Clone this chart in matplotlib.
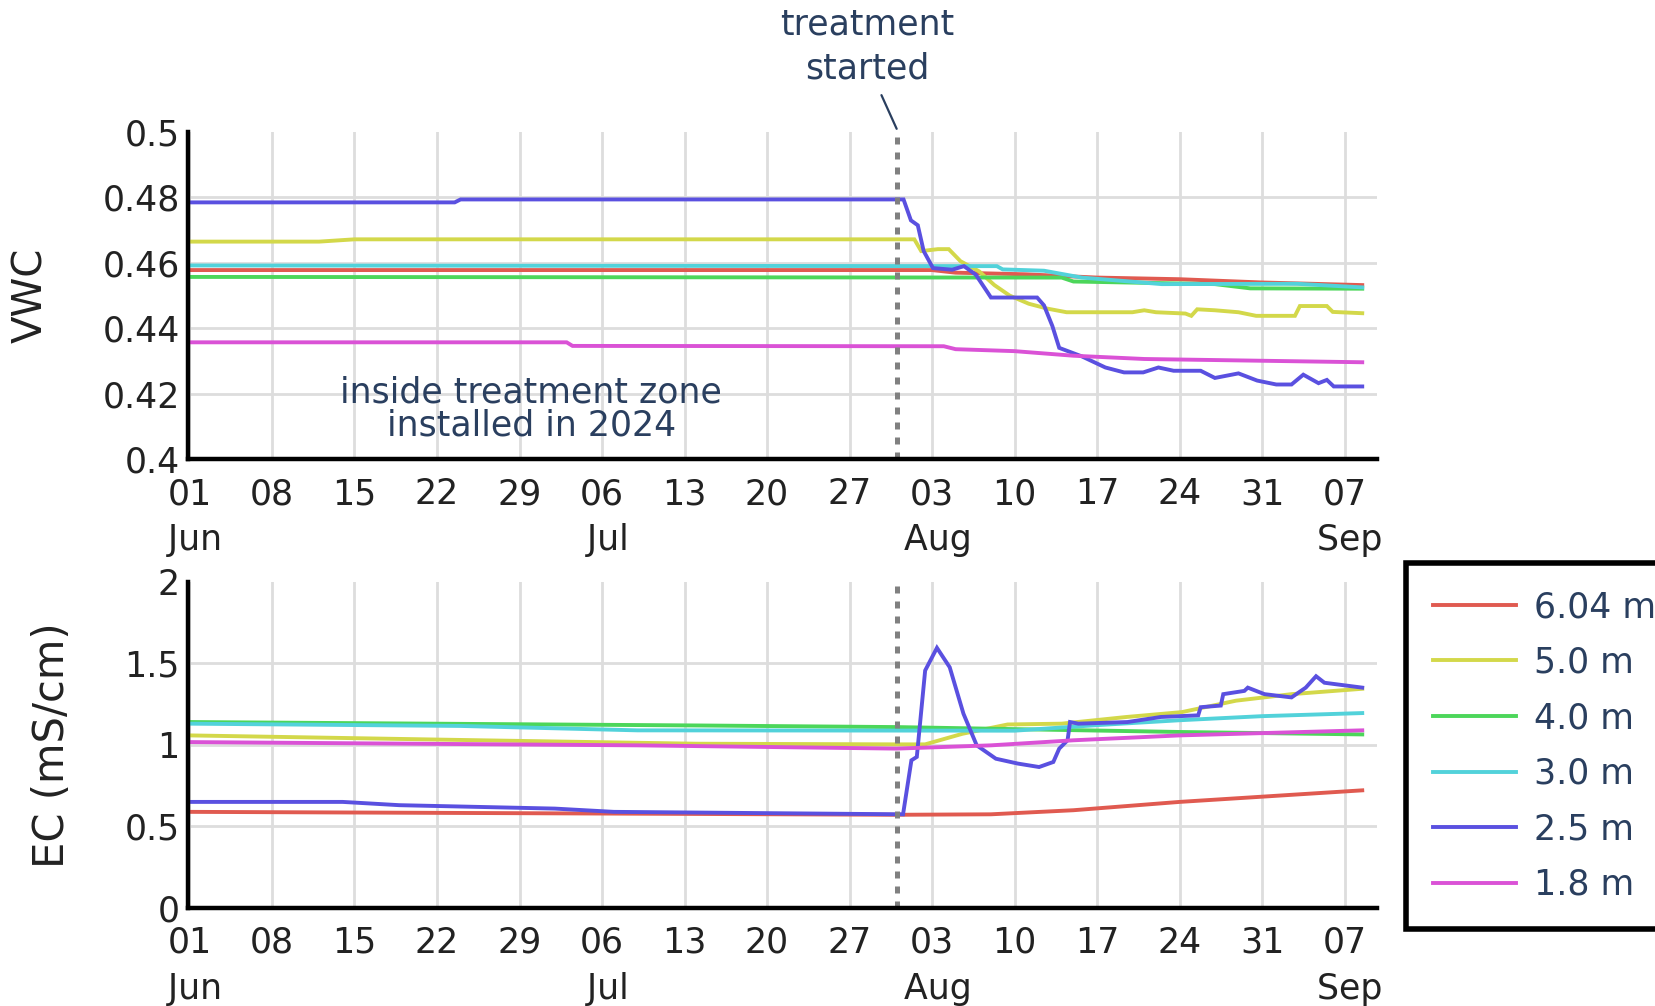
import matplotlib
matplotlib.use("Agg")
import matplotlib.pyplot as plt
import pandas as pd

plt.rcParams['font.family'] = ['DejaVu Sans']

YEAR = "2025-"

# ---------------- data ----------------
labels = ["6.04 m", "5.0 m", "4.0 m", "3.0 m", "2.5 m", "1.8 m"]
colors = ["#e05a50", "#d3d84a", "#4cd65a", "#52d2da", "#5a50e0", "#da52d6"]

# VWC
vwc_604_t = ["06-01 00:00", "08-03 00:00", "08-05 00:00", "08-11 00:00", "08-17 00:00",
             "08-24 00:00", "08-31 00:00", "09-08 12:00"]
vwc_604_v = [0.4578, 0.4578, 0.4570, 0.4565, 0.4555, 0.4550, 0.4540, 0.4532]

vwc_50_t = ["06-01 00:00", "06-12 00:00", "06-15 00:00", "08-01 12:00", "08-02 02:00",
            "08-03 12:00", "08-04 10:00", "08-05 10:00", "08-07 00:00", "08-08 07:00",
            "08-09 14:00", "08-11 05:00", "08-12 19:00", "08-14 10:00", "08-20 00:00",
            "08-21 00:00", "08-22 00:00", "08-24 12:00", "08-25 00:00", "08-25 12:00",
            "08-27 00:00", "08-29 00:00", "08-30 12:00", "09-02 19:00", "09-03 05:00",
            "09-05 12:00", "09-06 00:00", "09-08 12:00"]
vwc_50_v = [0.4665, 0.4665, 0.4672, 0.4672, 0.4636,
            0.4642, 0.4642, 0.4605, 0.4574, 0.4532,
            0.4500, 0.4475, 0.4460, 0.4449, 0.4449,
            0.4455, 0.4449, 0.4445, 0.4438, 0.4458,
            0.4455, 0.4449, 0.4438, 0.4438, 0.4468,
            0.4468, 0.4450, 0.4446]

vwc_40_t = ["06-01 00:00", "08-14 00:00", "08-15 00:00", "08-27 00:00", "08-30 00:00",
            "09-08 12:00"]
vwc_40_v = [0.4557, 0.4555, 0.4543, 0.4535, 0.4522, 0.4521]

vwc_30_t = ["06-01 00:00", "08-08 12:00", "08-09 00:00", "08-12 12:00", "08-15 17:00",
            "08-22 12:00", "09-03 00:00", "09-08 12:00"]
vwc_30_v = [0.4592, 0.4590, 0.4580, 0.4576, 0.4555, 0.4535, 0.4536, 0.4525]

vwc_25_t = ["06-01 00:00", "06-23 12:00", "06-24 00:00", "07-31 14:00", "08-01 05:00",
            "08-01 19:00", "08-02 07:00", "08-03 02:00", "08-04 17:00", "08-05 17:00",
            "08-06 17:00", "08-07 17:00", "08-08 00:00", "08-11 22:00", "08-12 12:00",
            "08-13 05:00", "08-13 19:00", "08-15 17:00", "08-17 17:00", "08-19 07:00",
            "08-20 22:00", "08-22 05:00", "08-23 12:00", "08-25 19:00", "08-27 00:00",
            "08-29 00:00", "08-30 14:00", "09-01 05:00", "09-02 12:00", "09-03 12:00",
            "09-04 19:00", "09-05 12:00", "09-06 02:00", "09-08 12:00"]
vwc_25_v = [0.4785, 0.4785, 0.4794, 0.4794, 0.4730,
            0.4715, 0.4636, 0.4584, 0.4579, 0.4590,
            0.4564, 0.4510, 0.4494, 0.4494, 0.4470,
            0.4407, 0.4340, 0.4314, 0.4280, 0.4265,
            0.4265, 0.4280, 0.4270, 0.4270, 0.4248,
            0.4262, 0.4240, 0.4228, 0.4228, 0.4258,
            0.4232, 0.4242, 0.4222, 0.4222]

vwc_18_t = ["06-01 00:00", "07-03 00:00", "07-03 12:00", "08-04 00:00", "08-05 00:00",
            "08-10 00:00", "08-15 00:00", "08-21 00:00", "09-08 12:00"]
vwc_18_v = [0.4357, 0.4357, 0.4346, 0.4345, 0.4336, 0.4330, 0.4316, 0.4306, 0.4296]

# EC
ec_604_t = ["06-01 00:00", "07-05 00:00", "07-31 00:00", "08-08 00:00", "08-15 00:00",
            "08-24 00:00", "09-08 12:00"]
ec_604_v = [0.588, 0.578, 0.570, 0.573, 0.598, 0.649, 0.720]

ec_50_t = ["06-01 00:00", "06-25 17:00", "07-14 00:00", "07-31 00:00", "08-02 10:00",
           "08-05 14:00", "08-09 10:00", "08-14 00:00", "08-19 12:00", "08-24 05:00",
           "08-28 19:00", "09-02 12:00", "09-08 12:00"]
ec_50_v = [1.057, 1.027, 1.006, 1.002, 1.002,
           1.067, 1.124, 1.129, 1.170, 1.200,
           1.270, 1.310, 1.343]

ec_40_t = ["06-01 00:00", "07-14 00:00", "07-31 00:00", "08-24 00:00", "09-08 12:00"]
ec_40_v = [1.139, 1.118, 1.108, 1.078, 1.063]

ec_30_t = ["06-01 00:00", "06-24 00:00", "07-09 00:00", "08-10 00:00", "08-17 00:00",
           "08-24 00:00", "08-31 00:00", "09-08 12:00"]
ec_30_v = [1.129, 1.115, 1.088, 1.086, 1.120, 1.150, 1.175, 1.194]

ec_25_t = ["06-01 00:00", "06-14 00:00", "06-18 19:00", "07-02 00:00", "07-07 00:00",
           "07-31 13:00", "08-01 06:00", "08-01 17:00", "08-02 10:00", "08-03 10:00",
           "08-04 12:00", "08-05 16:00", "08-06 19:00", "08-08 10:00", "08-10 07:00",
           "08-12 02:00", "08-13 07:00", "08-13 19:00", "08-14 12:00", "08-14 17:00",
           "08-15 10:00", "08-19 14:00", "08-22 10:00", "08-25 14:00", "08-25 19:00",
           "08-27 12:00", "08-27 17:00", "08-29 12:00", "08-29 19:00", "08-31 05:00",
           "09-02 12:00", "09-03 17:00", "09-04 14:00", "09-05 07:00", "09-08 12:00"]
ec_25_v = [0.649, 0.649, 0.629, 0.608, 0.588,
           0.573, 0.904, 0.925, 1.455, 1.594,
           1.475, 1.190, 0.996, 0.914, 0.884,
           0.863, 0.894, 0.976, 1.027, 1.139,
           1.129, 1.139, 1.170, 1.180, 1.230,
           1.240, 1.310, 1.330, 1.350, 1.310,
           1.290, 1.350, 1.420, 1.380, 1.350]

ec_18_t = ["06-01 00:00", "07-09 00:00", "07-31 00:00", "08-08 00:00", "08-15 00:00",
           "08-24 00:00", "09-08 12:00"]
ec_18_v = [1.016, 0.996, 0.976, 0.996, 1.027, 1.057, 1.088]

vwc_series = [(vwc_604_t, vwc_604_v), (vwc_50_t, vwc_50_v), (vwc_40_t, vwc_40_v),
              (vwc_30_t, vwc_30_v), (vwc_25_t, vwc_25_v), (vwc_18_t, vwc_18_v)]
ec_series = [(ec_604_t, ec_604_v), (ec_50_t, ec_50_v), (ec_40_t, ec_40_v),
             (ec_30_t, ec_30_v), (ec_25_t, ec_25_v), (ec_18_t, ec_18_v)]

tick_dates = ["06-01", "06-08", "06-15", "06-22", "06-29", "07-06", "07-13", "07-20",
              "07-27", "08-03", "08-10", "08-17", "08-24", "08-31", "09-07"]
tick_labels = ["01\n Jun", "08", "15", "22", "29", "06\n Jul", "13", "20",
               "27", "03\n Aug", "10", "17", "24", "31", "07\n Sep"]

vwc_ticks = [0.4, 0.42, 0.44, 0.46, 0.48, 0.5]
vwc_ticklabels = ["0.4", "0.42", "0.44", "0.46", "0.48", "0.5"]
ec_ticks = [0, 0.5, 1, 1.5, 2]
ec_ticklabels = ["0", "0.5", "1", "1.5", "2"]

treatment_date = "07-31 00:00"
x_start = "05-31 21:00"
x_end = "09-09 19:00"


def d(s):
    return pd.to_datetime(YEAR + s)


# ---------------- figure ----------------
fig = plt.figure(figsize=(16.55, 10.06), dpi=100)
ax1 = fig.add_axes([0.1136, 0.5437, 0.7187, 0.3250])
ax2 = fig.add_axes([0.1136, 0.0977, 0.7187, 0.3241])

navy = "#2a3f5f"
handles = []
for ax, series, ticks, tlabels, ylim in [
        (ax1, vwc_series, vwc_ticks, vwc_ticklabels, (0.4, 0.5)),
        (ax2, ec_series, ec_ticks, ec_ticklabels, (0, 2))]:
    for (t, v), c, lab in zip(series, colors, labels):
        ln, = ax.plot([d(s) for s in t], v, color=c, lw=2.8, label=lab,
                      solid_joinstyle="miter", zorder=3)
        if ax is ax1:
            handles.append(ln)
    ax.set_xlim(d(x_start), d(x_end))
    ax.set_ylim(*ylim)
    ax.set_yticks(ticks)
    ax.set_yticklabels(tlabels)
    ax.set_xticks([d(s + " 00:00") for s in tick_dates])
    ax.set_xticklabels(tick_labels, linespacing=1.45)
    for sp in ["top", "right"]:
        ax.spines[sp].set_visible(False)
    for sp in ["left", "bottom"]:
        ax.spines[sp].set_linewidth(3.2)
        ax.spines[sp].set_color("black")
        ax.spines[sp].set_zorder(6)
    ax.tick_params(length=0, labelsize=25, colors="#222222")
    ax.tick_params(axis="x", pad=13)
    ax.tick_params(axis="y", pad=6)
    ax.grid(True, color="#dddddd", lw=2.0, zorder=0)
    ax.set_axisbelow(True)
    ax.get_ygridlines()[-1].set_visible(False)
    ax.get_ygridlines()[0].set_visible(False)
    ax.axvline(d(treatment_date), color="#808080", lw=3.6, dashes=(1.4, 1.6), zorder=5)

ax1.set_ylabel("VWC", fontsize=29, color="#222222")
ax1.yaxis.set_label_coords(-0.115, 0.5)
ax2.set_ylabel("EC (mS/cm)", fontsize=30, color="#222222")
ax2.yaxis.set_label_coords(-0.097, 0.5)

# annotations
ax1.text(0.571, 1.262, "treatment\nstarted", transform=ax1.transAxes, ha="center",
         va="center", fontsize=25, color=navy, linespacing=1.4)
ax1.annotate("", xy=(d(treatment_date), 0.501), xycoords="data",
             xytext=(0.583, 1.113), textcoords="axes fraction",
             arrowprops=dict(arrowstyle="-", color=navy, lw=1.6,
                             shrinkA=0, shrinkB=0), annotation_clip=False)
ax1.text(d("06-30 00:00"), 0.4153, "inside treatment zone\ninstalled in 2024",
         ha="center", va="center", fontsize=25, color=navy, linespacing=0.95)

leg = fig.legend(handles, labels, loc="upper left",
                 bbox_to_anchor=(1406 / 1655, 1 - 930 / 1006, 0.2, 367 / 1006),
                 mode="expand", frameon=True, fancybox=False, edgecolor="black",
                 framealpha=1, borderaxespad=0, fontsize=25, handlelength=2.4,
                 handletextpad=0.5, labelspacing=0.62, borderpad=0.78)
leg.get_frame().set_linewidth(4)
for txt in leg.get_texts():
    txt.set_color(navy)

fig.savefig("out.png", dpi=100)
